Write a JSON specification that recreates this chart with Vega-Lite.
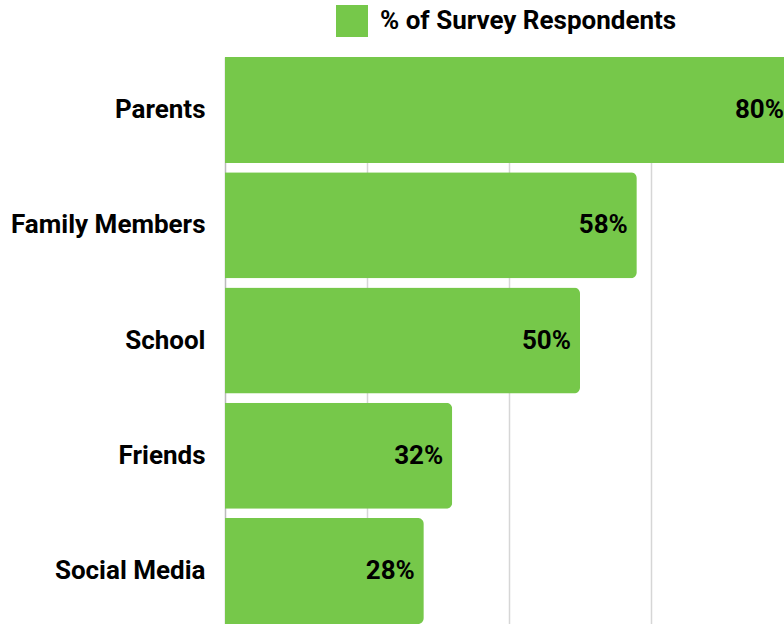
{
  "$schema": "https://vega.github.io/schema/vega-lite/v6.json",
  "autosize": {"type": "none"},
  "padding": {"left": 225, "top": 57, "right": 0, "bottom": 0},
  "width": 559,
  "height": 567,
  "background": "white",
  "config": {"view": {"stroke": null}, "font": "Roboto"},
  "data": {"values": [
    {"source": "Parents", "share": 0.80, "series": "% of Survey Respondents"},
    {"source": "Family Members", "share": 0.58, "series": "% of Survey Respondents"},
    {"source": "School", "share": 0.50, "series": "% of Survey Respondents"},
    {"source": "Friends", "share": 0.32, "series": "% of Survey Respondents"},
    {"source": "Social Media", "share": 0.28, "series": "% of Survey Respondents"}
  ]},
  "encoding": {
    "y": {"field": "source", "type": "nominal", "sort": null,
      "scale": {"paddingInner": 0.08, "paddingOuter": 0},
      "axis": {"title": null, "ticks": false, "labelPadding": 20, "labelFont": "Roboto", "labelFontSize": 26, "labelFontWeight": "bold", "labelColor": "#000000", "domainColor": "#bbbbbb", "domainWidth": 1.5, "labelLimit": 400}},
    "x": {"field": "share", "type": "quantitative",
      "scale": {"domain": [0, 0.7873], "nice": false, "zero": true},
      "axis": {"title": null, "labels": false, "ticks": false, "domain": false, "grid": true, "values": [0.2, 0.4, 0.6], "gridColor": "#d6d6d6", "gridWidth": 1.5}}
  },
  "layer": [
    {"mark": {"type": "bar", "cornerRadiusEnd": 6},
     "encoding": {"color": {"field": "series", "type": "nominal",
       "scale": {"range": ["#76c84a"]},
       "legend": {"title": null, "orient": "none", "legendX": 111, "legendY": -52, "padding": 0,
         "symbolType": "square", "symbolSize": 1024, "symbolStrokeWidth": 0, "symbolOpacity": 1,
         "labelFont": "Roboto", "labelFontSize": 26, "labelFontWeight": "bold", "labelColor": "#000000", "labelOffset": 12, "labelLimit": 500}}}},
    {"mark": {"type": "text", "align": "right", "baseline": "middle", "dx": -9, "font": "Roboto", "fontSize": 26, "fontWeight": "bold", "color": "#000000"},
     "encoding": {"text": {"field": "share", "type": "quantitative", "format": ".0%"}}}
  ]
}
